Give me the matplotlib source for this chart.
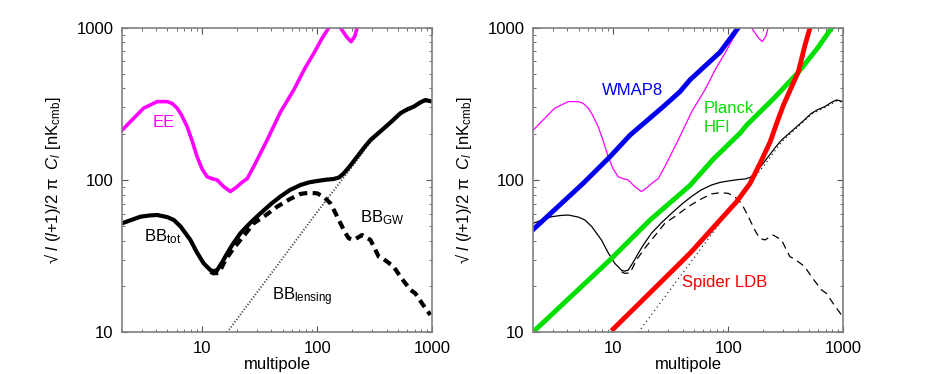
import matplotlib
matplotlib.use('Agg')
import matplotlib.pyplot as plt

plt.rcParams['font.family'] = ['Liberation Sans', 'DejaVu Sans']
plt.rcParams['mathtext.fontset'] = 'custom'
plt.rcParams['mathtext.rm'] = 'Liberation Sans'
plt.rcParams['mathtext.it'] = 'Liberation Sans:italic'

# EE spectrum
ee_l = [2.0, 3.1, 4.07, 4.97, 5.5, 6.07, 6.6, 7.41, 8.2, 9.05, 10, 11.05, 12.2, 13.5,
        15.4, 17.6, 20, 22, 24.6, 28, 36.7, 48, 62.5, 78, 93.3, 110, 126, 142,
        159, 180, 197, 212, 222, 250]
ee_c = [211, 296, 327, 327, 318, 296, 268, 224, 180, 142, 118, 105, 102, 100,
        90.4, 84, 90, 96, 102, 122, 183, 280, 390, 540, 678, 850, 1000, 1060,
        1000, 870, 809, 880, 1000, 1400]

# BB total
tot_l = [2.02, 2.91, 3.5, 4.07, 5, 5.68, 6.5, 7.92, 9, 10.3, 11.8, 12.5, 13.5, 15,
         16.5, 18.5, 21.5, 26, 32.1, 40, 47.9, 58, 71.5, 85, 100, 120, 139, 155,
         170, 190, 222, 255, 290, 378, 450, 527, 600, 689, 780, 869, 1000]
tot_c = [52, 57.4, 58.5, 58.9, 57, 54.6, 49.5, 40.3, 33.5, 28.4, 25.6, 25.2, 25.6, 29,
         33, 38, 44.7, 52, 60.4, 70, 77.9, 86, 92.7, 96.5, 98.5, 100.5, 101.5, 104,
         110.6, 122, 142, 163, 183, 218, 245, 274, 290, 303, 322, 335, 327]

# BB from gravity waves (below l~12 it lies under the total)
gw_l = [11.8, 12.5, 14, 16, 18.8, 23, 28.1, 36,
        44.8, 58, 71.5, 85, 100, 115, 130, 145, 159, 175, 188, 208, 245, 290,
        342, 378, 461, 527, 644, 712, 813, 961]
gw_c = [25, 24.4, 24.5, 30, 35.6, 43, 52, 59,
        66.8, 75, 81, 82.5, 81.7, 77, 70.3, 60, 52, 45, 41.4, 40.4, 43.5, 40.4,
        31.4, 30.2, 27, 23.2, 19, 18, 15.5, 13]

# BB from lensing
lens_l = [16.5, 50, 100, 180, 230, 290, 378, 527, 689, 869, 1000]
lens_c = [10, 30.6, 61.7, 110, 140, 178, 214, 270, 299, 330, 323]

# experiment noise curves
wmap_l = [2, 5.48, 9.36, 14, 27.2, 38, 46.4, 84.7, 122]
wmap_c = [47, 95, 142, 197, 303, 380, 454, 690, 1000]

planck_l = [2, 9.7, 20.9, 46.4, 74, 126.5, 145, 250, 406, 600, 793]
planck_c = [10, 30.6, 54.6, 92, 137, 203, 230, 345, 510, 740, 1000]

spider_l = [10, 38, 46.4, 80, 118, 154.5, 190, 231, 260, 301, 350, 406, 464, 513]
spider_c = [10.5, 28.4, 33, 52, 72, 95, 130, 178, 230, 310, 400, 514, 770, 1000]

fig = plt.figure(figsize=(9.33, 3.74), dpi=100)
ax1 = fig.add_axes([0.1304, 0.1115, 0.333, 0.8145])
ax2 = fig.add_axes([0.5710, 0.1115, 0.333, 0.8145])

ylab = '√ $\\mathit{l}$ ($\\mathit{l}$+1)/2 π  $\\mathit{C}_\\mathit{l}$ [nK$_{\\mathrm{cmb}}$]'

for ax in (ax1, ax2):
    ax.set_xscale('log')
    ax.set_yscale('log')
    ax.set_xlim(2, 1000)
    ax.set_ylim(10, 1000)
    ax.set_xticks([10, 100, 1000])
    ax.set_xticklabels(['10', '100', '1000'])
    ax.set_yticks([10, 100, 1000])
    ax.set_yticklabels(['10', '100', '1000'])
    ax.tick_params(which='both', direction='in', top=True, right=True,
                   labelsize=12, color='#555555')
    ax.tick_params(which='major', length=4, width=0.8, pad=6)
    ax.tick_params(which='minor', length=2, width=0.6)
    for s in ax.spines.values():
        s.set_color('#808080')
        s.set_linewidth(1.2)
    ax.set_xlabel('multipole', fontsize=12)
    ax.xaxis.set_label_coords(0.5, -0.08)
    ax.set_ylabel(ylab, fontsize=12)
    ax.yaxis.set_label_coords(-0.188, 0.5)

# left panel
ax1.plot(lens_l, lens_c, color='#444444', lw=1.4, linestyle=(0, (0.6, 1.0)))
ax1.plot(gw_l, gw_c, color='black', lw=3, linestyle=(0, (2.0, 1.3)))
ax1.plot(tot_l, tot_c, color='black', lw=3, solid_joinstyle='round')
ax1.plot(ee_l, ee_c, color='#ff00ff', lw=2.6, solid_joinstyle='round')

ax1.text(4.61, 240, 'EE', color='#ff00ff', fontsize=12, ha='center', va='center')
ax1.text(3.12, 39.4, 'BB$_{\\mathrm{tot}}$', fontsize=12, ha='left', va='baseline')
ax1.text(233, 52.5, 'BB$_{\\mathrm{GW}}$', fontsize=12, ha='left', va='baseline')
ax1.text(40.5, 16.3, 'BB$_{\\mathrm{lensing}}$', fontsize=12, ha='left', va='baseline')

# right panel
ax2.plot(lens_l, lens_c, color='black', lw=0.8, linestyle=(0, (1, 3)))
ax2.plot(gw_l, gw_c, color='black', lw=0.9, linestyle=(0, (6, 4)))
ax2.plot(tot_l, tot_c, color='black', lw=0.9)
ax2.plot(ee_l, ee_c, color='#ff00ff', lw=0.9)
ax2.plot(wmap_l, wmap_c, color='#0000ee', lw=3.5, solid_joinstyle='round')
ax2.plot(planck_l, planck_c, color='#00e000', lw=3.5, solid_joinstyle='round')
ax2.plot(spider_l, spider_c, color='#ff0000', lw=3.5, solid_joinstyle='round')

ax2.text(7.93, 361, 'WMAP8', color='#0000ee', fontsize=12, ha='left', va='baseline')
ax2.text(60.7, 274, 'Planck', color='#00e000', fontsize=12, ha='left', va='baseline')
ax2.text(60.7, 208, 'HFI', color='#00e000', fontsize=12, ha='left', va='baseline')
ax2.text(39.4, 19.7, 'Spider LDB', color='#ff0000', fontsize=12, ha='left', va='baseline')

fig.savefig('out.png', dpi=100)
